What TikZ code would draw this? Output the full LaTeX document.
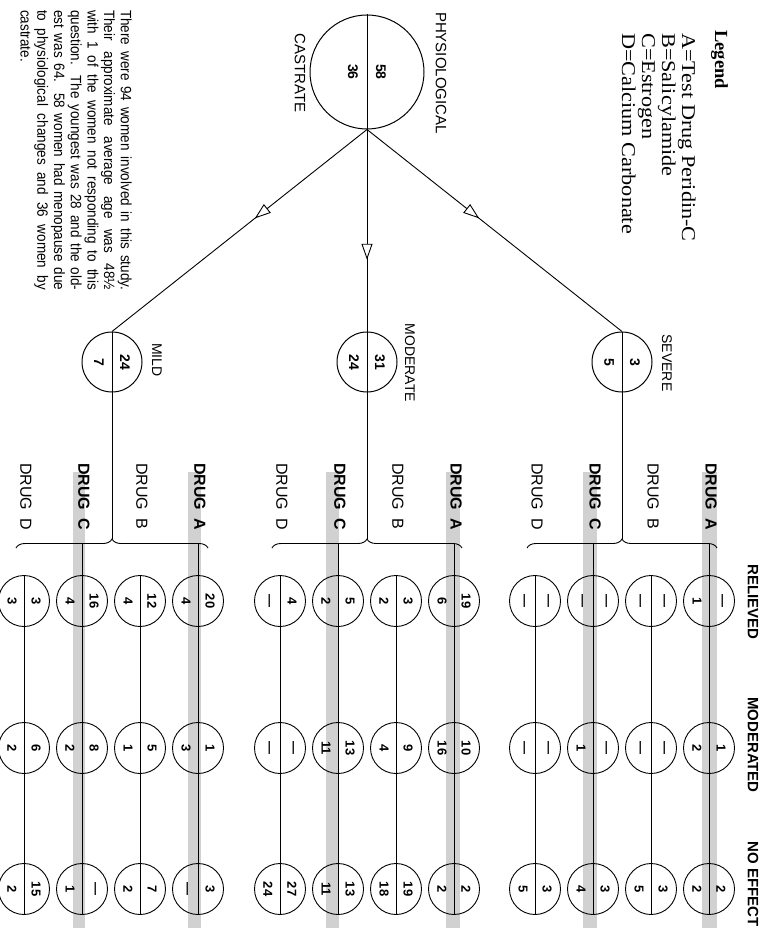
\documentclass[tikz,border=0pt]{standalone}
\usepackage{fontspec}
\setmainfont{Liberation Sans}
\newfontfamily\seriffont{Liberation Serif}
\newfontfamily\notefont[FakeStretch=0.9]{Liberation Sans}
\usetikzlibrary{arrows.meta,decorations.pathreplacing,decorations.markings}
\newcommand\dsh{\textemdash}
\newcommand\dcol[9]{%
  \node[cel] (#1r) at (#2,601) {};
  \node[cel] (#1m) at (#2,748) {};
  \node[cel] (#1n) at (#2,889) {};
  \coordinate (#1t) at (#2,#3);
  \draw[lw] (#1t) -- (#1n.south);
  \node[num] at (#2+12,601) {#4};
  \node[num] at (#2-12,601) {#5};
  \node[num] at (#2+12,748) {#6};
  \node[num] at (#2-12,748) {#7};
  \node[num] at (#2+12,889) {#8};
  \node[num] at (#2-12,889) {#9};
}
\begin{document}
\begin{tikzpicture}[x=1pt,y=-1pt,
  lw/.style={line width=0.9pt},
  bigc/.style={circle,draw,line width=1pt,minimum size=114pt,inner sep=0},
  grpc/.style={circle,draw,line width=1pt,minimum size=60pt,inner sep=0},
  cel/.style={circle,draw,line width=0.9pt,minimum size=51pt,inner sep=0},
  rot/.style={rotate=-90,inner sep=0},
  num/.style={rot,font=\bfseries\fontsize{13}{13}\selectfont},
  gnum/.style={rot,font=\bfseries\fontsize{14}{14}\selectfont},
  lbl/.style={rot,font=\fontsize{14}{14}\selectfont},
  hdr/.style={rot,font=\bfseries\fontsize{15}{15}\selectfont},
  drg/.style={rot,anchor=west,font=\fontsize{16}{16}\selectfont},
  drgb/.style={rot,anchor=west,font=\bfseries\fontsize{16}{16}\selectfont},
  stripe/.style={fill=black!18},
  brc/.style={decorate,decoration={brace,amplitude=9pt},line width=0.9pt},
  arr/.style={postaction={decorate,decoration={markings,mark=at position #1 with {\arrow[line width=0.9pt]{Triangle[length=16pt,width=11pt,fill=white]}}}}}
]
\useasboundingbox (0,0) rectangle (773,933);
% highlight stripes
\fill[stripe] (702,472) rectangle (717,928);
\fill[stripe] (583,472) rectangle (597,928);
\fill[stripe] (446,472) rectangle (460,928);
\fill[stripe] (326,472) rectangle (339,928);
\fill[stripe] (188,472) rectangle (201,928);
\fill[stripe] (73,472) rectangle (85,928);

% legend
\node[rot,anchor=base west,font=\seriffont\bfseries\fontsize{18.5}{18.5}\selectfont] (leg) at (715,30) {Legend};
\node[rot,anchor=base west,font=\seriffont\fontsize{19.5}{19.5}\selectfont] (legA) at (682,33) {\scalebox{1.14}[1]{A=Test Drug Peridin-C}};
\node[rot,anchor=base west,font=\seriffont\fontsize{19.5}{19.5}\selectfont] (legB) at (662,33) {\scalebox{1.14}[1]{B=Salicylamide}};
\node[rot,anchor=base west,font=\seriffont\fontsize{19.5}{19.5}\selectfont] (legC) at (642,33) {\scalebox{1.14}[1]{C=Estrogen}};
\node[rot,anchor=base west,font=\seriffont\fontsize{19.5}{19.5}\selectfont] (legD) at (622,33) {\scalebox{1.14}[1]{D=Calcium Carbonate}};

% note
\node[rot,anchor=north west,align=left,font=\notefont\fontsize{15}{16.7}\selectfont] (note) at (132,10) {%
\makebox[280pt][s]{There were 94 women involved in this study.}\\
\makebox[280pt][s]{Their approximate average age was 48½}\\
\makebox[280pt][s]{with 1 of the women not responding to this}\\
\makebox[280pt][s]{question. The youngest was 28 and the old-}\\
\makebox[280pt][s]{est was 64. 58 women had menopause due}\\
\makebox[280pt][s]{to physiological changes and 36 women by}\\
castrate.};

% main circle
\node[bigc] (main) at (367,72) {};
\draw[lw] (main.north) -- (main.south);
\node[gnum] (n58) at (381,72) {58};
\node[gnum] (n36) at (353,72) {36};
\node[lbl,font=\fontsize{15}{15}\selectfont] (phys) at (441,73) {PHYSIOLOGICAL};
\node[lbl,font=\fontsize{15}{15}\selectfont] (cast) at (300,73) {CASTRATE};

% group circles
\node[grpc] (sev) at (622,362) {};
\node[grpc] (mod) at (367,362) {};
\node[grpc] (mil) at (112,362) {};
\node[gnum] at (635,362) {3};
\node[gnum] at (609,362) {5};
\node[gnum] at (380,362) {31};
\node[gnum] at (354,362) {24};
\node[gnum] at (125,362) {24};
\node[gnum] at (99,362) {7};
\node[lbl] (sevl) at (667,363) {SEVERE};
\node[lbl] (modl) at (410,363) {MODERATE};
\node[lbl] (mill) at (157,360) {MILD};

\coordinate (sevtip) at (622,539);
\coordinate (modtip) at (367,539);
\coordinate (miltip) at (112,539);
\draw[lw,arr=0.44] (main.south) -- (sev.north);
\draw[lw,arr=0.645] (main.south) -- (mod.north);
\draw[lw,arr=0.44] (main.south) -- (mil.north);
\draw[lw] (sev.north) -- (sevtip);
\draw[lw] (mod.north) -- (modtip);
\draw[lw] (mil.north) -- (miltip);

% braces
\draw[brc] (527,548) -- (717,548);
\draw[brc] (272,548) -- (462,548);
\draw[brc] (16,548) -- (208,548);

% drug labels
\node[drgb] at (711,463) {DRUG\hspace{0.5em}A};
\node[drg]  at (653,463) {DRUG\hspace{0.5em}B};
\node[drgb] at (595,463) {DRUG\hspace{0.5em}C};
\node[drg]  at (537,463) {DRUG\hspace{0.5em}D};
\node[drgb] at (456,463) {DRUG\hspace{0.5em}A};
\node[drg]  at (398,463) {DRUG\hspace{0.5em}B};
\node[drgb] at (340,463) {DRUG\hspace{0.5em}C};
\node[drg]  at (282,463) {DRUG\hspace{0.5em}D};
\node[drgb] at (200,463) {DRUG\hspace{0.5em}A};
\node[drg]  at (142,463) {DRUG\hspace{0.5em}B};
\node[drgb] at (84,463) {DRUG\hspace{0.5em}C};
\node[drg]  at (26,463) {DRUG\hspace{0.5em}D};

% headers
\node[hdr] (hrel) at (753,602) {RELIEVED};
\node[hdr] (hmod) at (753,745) {MODERATED};
\node[hdr] (hnoe) at (753,884) {NO EFFECT};

% columns: severe
\dcol{sevA}{709}{543}{\dsh}{1}{1}{2}{2}{2}
\dcol{sevB}{651}{576}{\dsh}{\dsh}{\dsh}{\dsh}{3}{5}
\dcol{sevC}{593}{543}{\dsh}{\dsh}{\dsh}{1}{3}{4}
\dcol{sevD}{535}{576}{\dsh}{\dsh}{\dsh}{\dsh}{3}{5}
% moderate
\dcol{modA}{454}{543}{19}{6}{10}{16}{2}{2}
\dcol{modB}{396}{576}{3}{2}{9}{4}{19}{18}
\dcol{modC}{338}{543}{5}{2}{13}{11}{13}{11}
\dcol{modD}{280}{576}{4}{\dsh}{\dsh}{\dsh}{27}{24}
% mild
\dcol{milA}{198}{543}{20}{4}{1}{3}{3}{\dsh}
\dcol{milB}{140}{576}{12}{4}{5}{1}{7}{2}
\dcol{milC}{82}{543}{16}{4}{8}{2}{\dsh}{1}
\dcol{milD}{24}{576}{3}{3}{6}{2}{15}{2}
\end{tikzpicture}
\end{document}
